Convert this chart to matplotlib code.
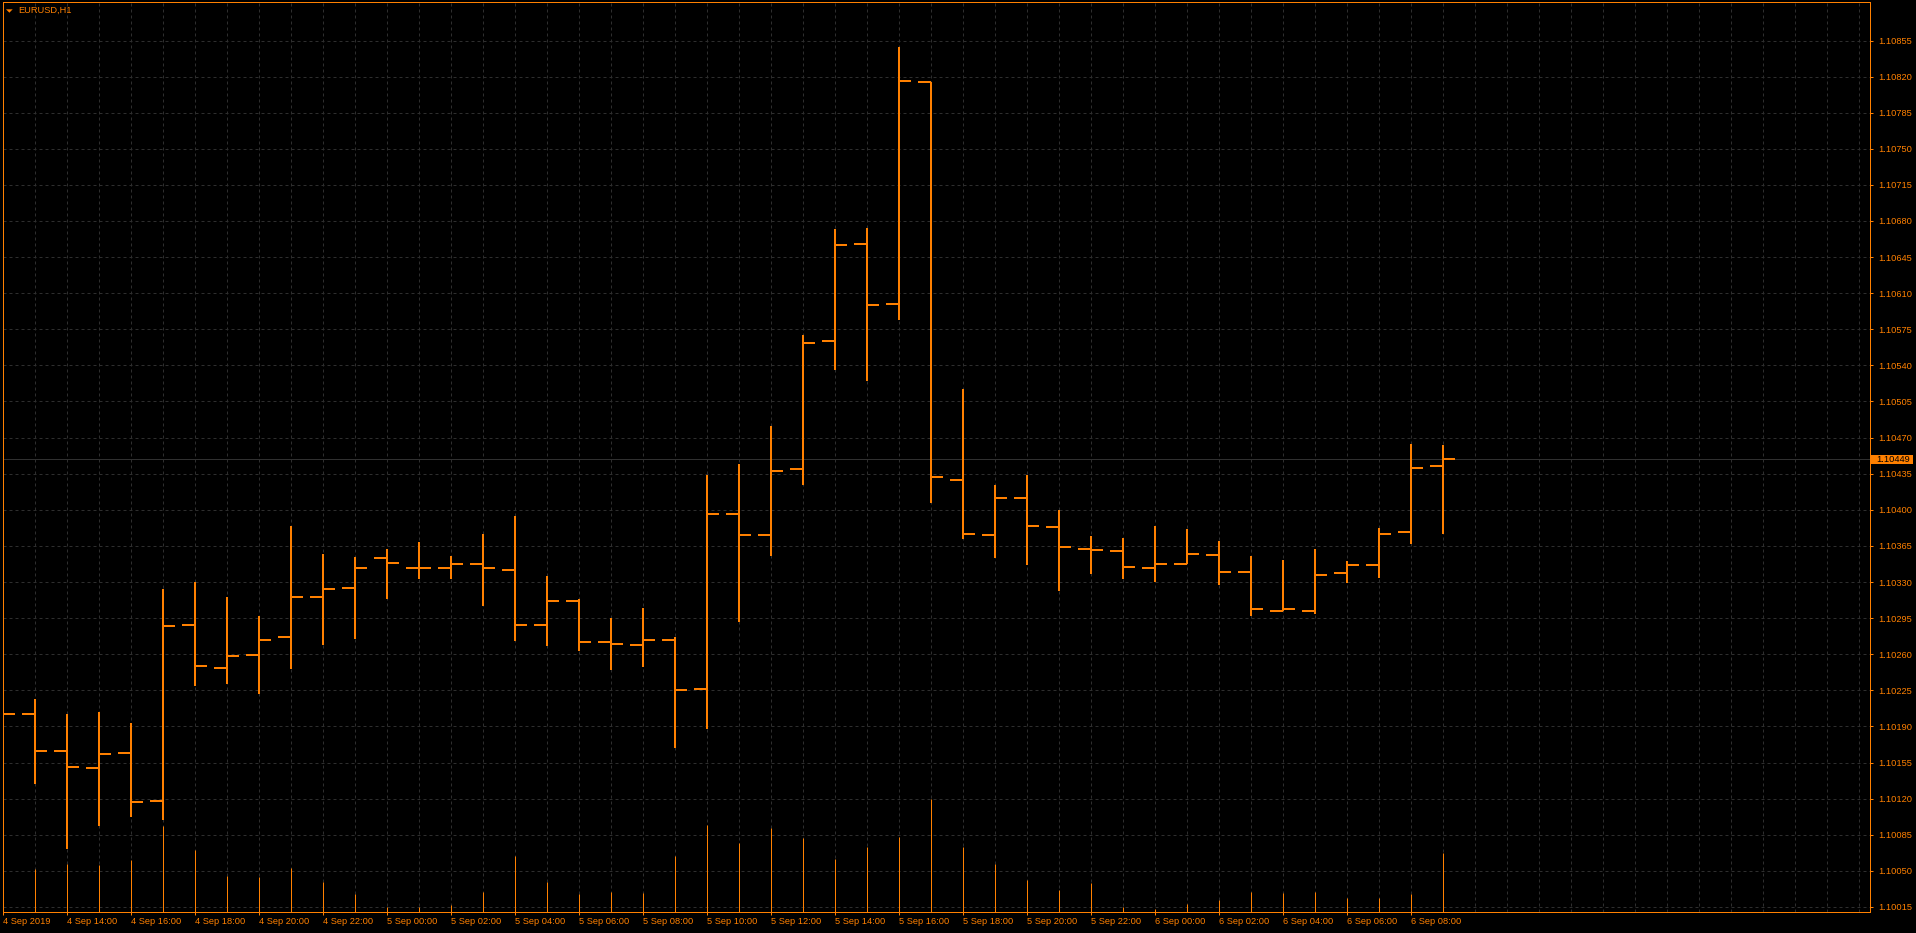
import matplotlib.pyplot as plt
import matplotlib.transforms as mtransforms
from matplotlib.patches import Rectangle, Polygon
import numpy as np

# EURUSD H1 bars, 4 Sep 2019 12:00 .. 6 Sep 2019 09:00
opens = [1.10210, 1.10202, 1.10166, 1.10150, 1.10164, 1.10118, 1.10288, 1.10247, 1.10259, 1.10277,
         1.10315, 1.10324, 1.10353, 1.10344, 1.10344, 1.10347, 1.10342, 1.10288, 1.10312, 1.10272,
         1.10269, 1.10274, 1.10226, 1.10396, 1.10376, 1.10440, 1.10564, 1.10658, 1.10600, 1.10815,
         1.10429, 1.10376, 1.10411, 1.10383, 1.10362, 1.10360, 1.10344, 1.10347, 1.10356, 1.10340,
         1.10302, 1.10302, 1.10339, 1.10346, 1.10378, 1.10442]
highs = [1.10237, 1.10217, 1.10202, 1.10204, 1.10193, 1.10323, 1.10330, 1.10315, 1.10297, 1.10384,
         1.10357, 1.10354, 1.10362, 1.10369, 1.10355, 1.10377, 1.10394, 1.10336, 1.10314, 1.10295,
         1.10305, 1.10277, 1.10434, 1.10444, 1.10481, 1.10569, 1.10672, 1.10673, 1.10849, 1.10815,
         1.10517, 1.10424, 1.10434, 1.10400, 1.10375, 1.10373, 1.10384, 1.10381, 1.10370, 1.10355,
         1.10351, 1.10362, 1.10350, 1.10382, 1.10464, 1.10463]
lows = [1.09990, 1.10134, 1.10071, 1.10093, 1.10102, 1.10099, 1.10229, 1.10231, 1.10221, 1.10246,
        1.10269, 1.10275, 1.10314, 1.10333, 1.10333, 1.10307, 1.10273, 1.10268, 1.10263, 1.10245,
        1.10248, 1.10169, 1.10187, 1.10291, 1.10355, 1.10424, 1.10536, 1.10525, 1.10584, 1.10407,
        1.10372, 1.10353, 1.10346, 1.10321, 1.10338, 1.10333, 1.10330, 1.10347, 1.10327, 1.10297,
        1.10302, 1.10299, 1.10329, 1.10334, 1.10367, 1.10377]
closes = [1.10202, 1.10166, 1.10151, 1.10163, 1.10117, 1.10287, 1.10249, 1.10258, 1.10274, 1.10315,
          1.10323, 1.10344, 1.10348, 1.10344, 1.10347, 1.10344, 1.10288, 1.10312, 1.10272, 1.10270,
          1.10274, 1.10225, 1.10396, 1.10376, 1.10438, 1.10562, 1.10657, 1.10599, 1.10816, 1.10432,
          1.10377, 1.10411, 1.10384, 1.10364, 1.10361, 1.10345, 1.10347, 1.10357, 1.10340, 1.10304,
          1.10304, 1.10337, 1.10346, 1.10377, 1.10441, 1.10449]
volumes = [800, 860, 960, 940, 1040, 1720, 1240, 720, 700, 880,
           600, 360, 100, 100, 140, 400, 1120, 600, 360, 400,
           380, 1120, 1740, 1380, 1680, 1480, 1060, 1300, 1500, 2260,
           1300, 960, 640, 440, 580, 100, 60, 160, 240, 400,
           380, 400, 280, 280, 360, 1180]
bid = 1.10449

xtick_labels = ['4 Sep 2019', '4 Sep 14:00', '4 Sep 16:00', '4 Sep 18:00', '4 Sep 20:00', '4 Sep 22:00',
                '5 Sep 00:00', '5 Sep 02:00', '5 Sep 04:00', '5 Sep 06:00', '5 Sep 08:00', '5 Sep 10:00',
                '5 Sep 12:00', '5 Sep 14:00', '5 Sep 16:00', '5 Sep 18:00', '5 Sep 20:00', '5 Sep 22:00',
                '6 Sep 00:00', '6 Sep 02:00', '6 Sep 04:00', '6 Sep 06:00', '6 Sep 08:00']
price_ticks = np.round(np.arange(1.10015, 1.10856, 0.00035), 5)

orange = '#FF8000'
grid_c = '#2e2e2e'
W, H = 1916, 933
px = 0.72  # one pixel in points at dpi 100

plt.rcParams['font.family'] = ['Liberation Sans', 'DejaVu Sans']

fig = plt.figure(figsize=(W / 100, H / 100), dpi=100, facecolor='black')
ax = fig.add_axes([2.7 / W, 20.7 / H, 1867.3 / W, 910.3 / H])
ax.set_facecolor('black')

k = 0.00035 / 36.1
ax.set_xlim(0, 1867.3 / 32)
ax.set_ylim(1.10855 - (912.3 - 40.5) * k, 1.10855 + 38.5 * k)

# grid
ax.set_yticks(price_ticks)
ax.set_yticklabels(['%.5f' % p for p in price_ticks])
ax.set_xticks(np.arange(0, len(opens), 2))
ax.set_xticklabels(xtick_labels)
ax.set_xticks(np.arange(1, 59), minor=True)
ax.grid(True, which='both', axis='x', color=grid_c, lw=px, ls=(0, (3, 3)))
ax.grid(True, which='major', axis='y', color=grid_c, lw=px, ls=(0, (3, 3)))
ax.set_axisbelow(True)

# bid line
ax.axhline(bid, color='#303030', lw=px, zorder=1)

# volumes
vol_ax = ax.twinx()
vol_ax.set_ylim(0, 910.3 * 20)
vol_ax.set_yticks([])
for s in vol_ax.spines.values():
    s.set_visible(False)
idx = np.arange(len(opens))
vol_ax.vlines(idx, 0, volumes, color=orange, lw=px)

# OHLC bars
tick = 0.385
ax.vlines(idx, lows, highs, color=orange, lw=2 * px, capstyle='butt', zorder=3)
ax.hlines(opens, idx - tick, idx, color=orange, lw=2 * px, capstyle='butt', zorder=3)
ax.hlines(closes, idx, idx + tick, color=orange, lw=2 * px, capstyle='butt', zorder=3)

# axes styling
for s in ax.spines.values():
    s.set_color(orange)
    s.set_linewidth(px)
ax.yaxis.tick_right()
ax.tick_params(axis='y', which='major', colors=orange, labelsize=6.7, length=2.2, width=px, pad=3.5,
               left=False, right=True)
ax.tick_params(axis='x', which='major', colors=orange, labelsize=6.7, length=2.2, width=px, pad=1.5)
ax.tick_params(axis='x', which='minor', length=0)
for lbl in ax.get_xticklabels():
    lbl.set_ha('left')

# bid price label
trans = mtransforms.blended_transform_factory(ax.transAxes, ax.transData)
ax.add_patch(Rectangle((1.0005, bid - 4.6 * k), 42 / 1867.3, 9.3 * k, transform=trans,
                       facecolor=orange, edgecolor='none', clip_on=False, zorder=5))
ax.text(1.0036, bid, '%.5f' % bid, transform=trans, color='black', fontsize=6.7,
        va='center', ha='left', clip_on=False, zorder=6)

# title
fig.text(18.3 / W, 1 - 10.8 / H, 'EURUSD,H1', color=orange, fontsize=6.7, va='center', ha='left')
fig.patches.append(Polygon([(6 / W, 1 - 9.3 / H), (12.7 / W, 1 - 9.3 / H), (9.35 / W, 1 - 12.7 / H)],
                           closed=True, transform=fig.transFigure, facecolor=orange, edgecolor='none'))

fig.savefig('out.png', dpi=100, facecolor='black')
